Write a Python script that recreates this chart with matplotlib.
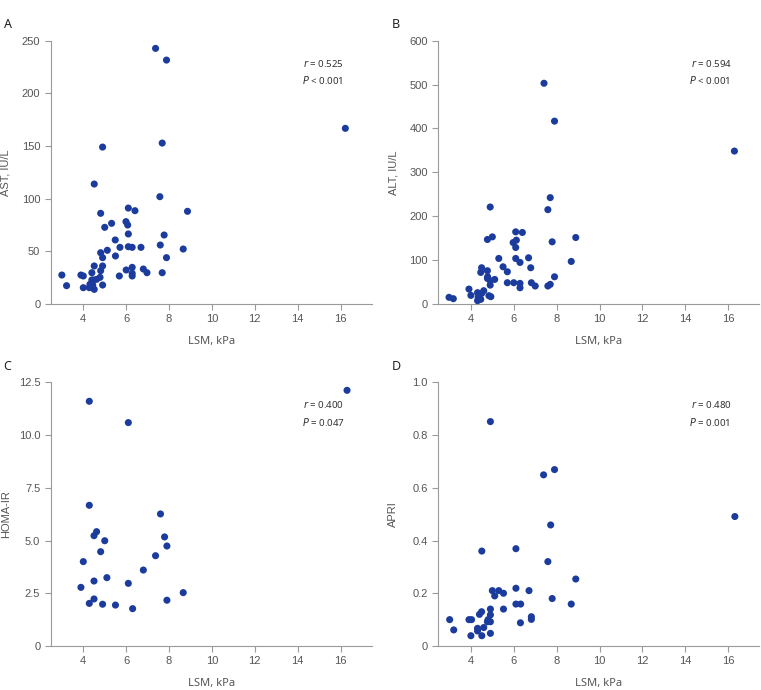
import matplotlib
matplotlib.use("Agg")
import matplotlib.pyplot as plt

## data (LSM in kPa on x)

ast_lsm = [3.0, 3.22, 3.89, 4.0, 4.0, 4.4, 4.4, 4.31, 4.28, 4.51, 4.51, 4.51, 4.62, 4.78,
           4.81, 4.81, 4.81, 4.9, 4.9, 4.9, 4.9, 5.0, 5.12, 5.32, 5.49, 5.5, 5.71, 5.68,
           5.99, 6.07, 6.1, 6.1, 6.1, 6.0, 6.28, 6.28, 6.28, 6.28, 6.41, 6.69, 6.8, 6.97,
           7.37, 7.57, 7.59, 7.68, 7.68, 7.77, 7.88, 7.88, 8.66, 8.86, 16.22, 4.44, 4.47]
ast_val = [27.5, 17.4, 27.5, 26.6, 15.5, 29.7, 22.8, 18.7, 15.5, 13.9, 36.1, 113.9, 23.4, 25.3,
           31.6, 48.7, 86.1, 44, 36.1, 18, 149, 72.8, 51, 76.6, 60.8, 45.6, 53.8, 26.6,
           78.2, 75, 91.1, 66.5, 54.4, 32.3, 53.8, 34.8, 29.1, 26.6, 88.6, 53.8, 33.2, 29.7,
           242.7, 101.9, 56, 152.8, 29.7, 65.5, 44, 231.6, 52.2, 88, 166.8, 18, 22.8]

alt_lsm = [2.98, 3.18, 3.91, 4.0, 4.31, 4.34, 4.31, 4.46, 4.5, 4.46, 4.5, 4.6, 4.77, 4.77,
           4.77, 4.84, 4.93, 4.9, 5.0, 4.9, 4.9, 5.11, 5.3, 5.5, 5.7, 5.7, 5.97, 6.09,
           6.12, 6.09, 6.09, 6.0, 6.29, 6.29, 6.29, 6.4, 6.69, 6.79, 6.82, 7.0, 7.41, 7.59,
           7.7, 7.59, 7.7, 7.79, 7.9, 7.9, 8.68, 8.89, 16.29, 4.78]
alt_val = [15.2, 12.1, 34, 19.7, 25.8, 15.2, 7.6, 10.6, 82.6, 72, 24, 30.3, 147, 75.8,
           58.3, 18.9, 16.7, 221, 153, 43, 53, 56, 103.8, 84.8, 73.5, 48.5, 140, 164.4,
           145.5, 128.8, 103.8, 48.5, 94.7, 47, 37, 163, 105.3, 82.6, 48.5, 41, 503, 215,
           242.4, 41, 44.7, 141.7, 416.7, 62, 97, 151.5, 348.5, 62]

homa_lsm = [4.28, 6.1, 16.3, 4.28, 7.6, 4.5, 4.62, 5.0, 4.81, 7.79, 7.9, 7.37, 4.0, 6.8,
            5.1, 4.5, 6.1, 3.89, 8.66, 4.5, 7.9, 4.28, 4.9, 5.5, 6.3]
homa_val = [11.6, 10.59, 12.12, 6.67, 6.26, 5.23, 5.42, 4.99, 4.47, 5.17, 4.74, 4.28, 4.0, 3.6,
            3.24, 3.08, 2.97, 2.78, 2.53, 2.23, 2.17, 2.02, 1.98, 1.94, 1.77]

apri_lsm = [4.91, 7.39, 7.9, 16.31, 7.72, 4.51, 6.1, 7.59, 8.89, 5.0, 5.3, 5.11, 5.52, 6.1,
            6.71, 7.79, 8.68, 6.1, 6.32, 5.52, 4.91, 4.91, 4.5, 4.4, 3.01, 3.91, 4.03, 4.8,
            4.91, 4.77, 6.82, 6.82, 6.31, 3.2, 4.31, 4.31, 4.6, 4.0, 4.51, 4.91]
apri_val = [0.851, 0.649, 0.669, 0.491, 0.459, 0.36, 0.369, 0.32, 0.254, 0.21, 0.21, 0.19, 0.2, 0.219,
            0.21, 0.18, 0.159, 0.159, 0.159, 0.14, 0.14, 0.118, 0.13, 0.12, 0.1, 0.1, 0.1, 0.1,
            0.092, 0.092, 0.111, 0.101, 0.088, 0.061, 0.067, 0.057, 0.07, 0.039, 0.039, 0.048]

x_ticks = [4, 6, 8, 10, 12, 14, 16]

ast_ticks = [0, 50, 100, 150, 200, 250]
alt_ticks = [0, 100, 200, 300, 400, 500, 600]
homa_ticks = [0, 2.5, 5.0, 7.5, 10.0, 12.5]
homa_labels = ['0', '2.5', '5.0', '7.5', '10.0', '12.5']
apri_ticks = [0, 0.2, 0.4, 0.6, 0.8, 1.0]
apri_labels = ['0', '0.2', '0.4', '0.6', '0.8', '1.0']

panels = [
    ('A', ast_lsm, ast_val, 'AST, IU/L', ast_ticks, [str(t) for t in ast_ticks], '0.525', '<'),
    ('B', alt_lsm, alt_val, 'ALT, IU/L', alt_ticks, [str(t) for t in alt_ticks], '0.594', '<'),
    ('C', homa_lsm, homa_val, 'HOMA-IR', homa_ticks, homa_labels, '0.400', '='),
    ('D', apri_lsm, apri_val, 'APRI', apri_ticks, apri_labels, '0.480', '='),
]
p_vals = ['0.001', '0.001', '0.047', '0.001']

W, H = 761, 690
fig = plt.figure(figsize=(W / 100, H / 100), dpi=100)

# axes boxes in pixels: left, top, right, bottom
boxes = [(50.7, 40.7, 371.7, 304), (438.3, 40.7, 759.3, 304),
         (50.7, 382.3, 371.7, 646), (438.3, 382.3, 759.3, 646)]

dot = '#1b3c9c'
grey = '#9a9a9a'
txt = '#555555'

for i, (letter, xs, ys, ylab, yt, ytl, r, sign) in enumerate(panels):
    l, t, r_, b = boxes[i]
    ax = fig.add_axes([l / W, 1 - b / H, (r_ - l) / W, (b - t) / H])
    ax.scatter(xs, ys, s=26, color=dot, edgecolors='none', zorder=3, clip_on=False)
    ax.set_xlim(2.48, 17.45)
    ax.set_ylim(yt[0], yt[-1])
    ax.set_xticks(x_ticks)
    ax.set_yticks(yt)
    ax.set_yticklabels(ytl)
    for s in ['top', 'right']:
        ax.spines[s].set_visible(False)
    for s in ['left', 'bottom']:
        ax.spines[s].set_color(grey)
        ax.spines[s].set_linewidth(0.8)
    ax.tick_params(direction='out', length=4, width=0.8, color=grey,
                   labelcolor=txt, labelsize=8)
    for lbl in ax.get_xticklabels() + ax.get_yticklabels():
        lbl.set_family('Liberation Sans')
    ax.set_xlabel('LSM, kPa', fontsize=8, color=txt, family='Noto Sans', labelpad=8)
    # y label sits near the figure edge
    fig.text((l - 45) / W, 1 - (t + b) / 2 / H, ylab, rotation=90, ha='center', va='center',
             fontsize=8, color=txt, family='Liberation Sans')

    ax.text(0.786, 0.915, '$r$ = ' + r, transform=ax.transAxes, fontsize=7,
            color='#333333', family='Noto Sans', va='center')
    ax.text(0.782, 0.851, '$P$ ' + sign + ' ' + p_vals[i], transform=ax.transAxes, fontsize=7,
            color='#333333', family='Noto Sans', va='center')

    fig.text((l - 47) / W, 1 - (t - 16) / H, letter, fontsize=9, fontweight='bold',
             family='Noto Sans', color='#222222', va='center')

fig.savefig('out.png', dpi=100)
